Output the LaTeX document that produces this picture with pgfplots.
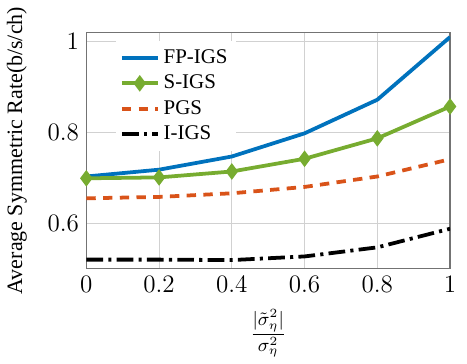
\documentclass[border=0pt]{standalone}
\usepackage{pgfplots}
\pgfplotsset{compat=1.18}
\usepackage{fontspec}
\setmainfont{Liberation Serif}
\definecolor{cblue}{RGB}{0,114,189}
\definecolor{cgreen}{RGB}{119,172,48}
\definecolor{corange}{RGB}{217,83,25}
\begin{document}
\begin{tikzpicture}
\begin{axis}[
  name=ax,
  scale only axis,
  width=174pt, height=113pt,
  xmin=0, xmax=1, ymin=0.5, ymax=1.02,
  xtick={0,0.2,0.4,0.6,0.8,1},
  ytick={0.6,0.8,1},
  xticklabels={$0$,$0.2$,$0.4$,$0.6$,$0.8$,$1$},
  yticklabels={$0.6$,$0.8$,$1$},
  tick label style={font=\large},
  major tick length=0pt,
  grid=major,
  grid style={black!18, line width=0.5pt},
  axis line style={black!55, line width=0.6pt},
  xlabel={$\displaystyle\frac{|\tilde{\sigma}_{\eta}^{2}|}{\sigma_{\eta}^{2}}$},
  xlabel style={font=\small, yshift=-1.5pt},
  ylabel={Average Symmetric Rate(b/s/ch)},
  ylabel style={font=\fontsize{10.5}{12}\selectfont, yshift=3pt},
  legend style={at={(0.08,0.965)}, anchor=north west, draw=none, fill=white,
    font=\normalsize, row sep=0pt, inner sep=2pt},
  legend cell align=left,
  every axis plot/.append style={line width=1.8pt},
]
\addplot[cblue] coordinates {(0,0.703) (0.2,0.718) (0.4,0.747) (0.6,0.798) (0.8,0.872) (1,1.010)};
\addlegendentry{FP-IGS}
\addplot[cgreen, mark=diamond*, mark size=2.5pt, mark options={solid}] coordinates {(0,0.699) (0.2,0.701) (0.4,0.714) (0.6,0.742) (0.8,0.787) (1,0.857)};
\addlegendentry{S-IGS}
\addplot[corange, dash pattern=on 4.5pt off 3.5pt] coordinates {(0,0.655) (0.2,0.658) (0.4,0.666) (0.6,0.680) (0.8,0.703) (1,0.741)};
\addlegendentry{PGS}
\addplot[black, dash pattern=on 8pt off 2.5pt on 1.5pt off 2.5pt] coordinates {(0,0.520) (0.2,0.520) (0.4,0.519) (0.6,0.527) (0.8,0.547) (1,0.588)};
\addlegendentry{I-IGS}
\end{axis}
% page margins around the axis box
\path (ax.south west) -- ++(-40.5pt,-45.2pt);
\path (ax.north east) -- ++(8.1pt,13.3pt);
\end{tikzpicture}
\end{document}
